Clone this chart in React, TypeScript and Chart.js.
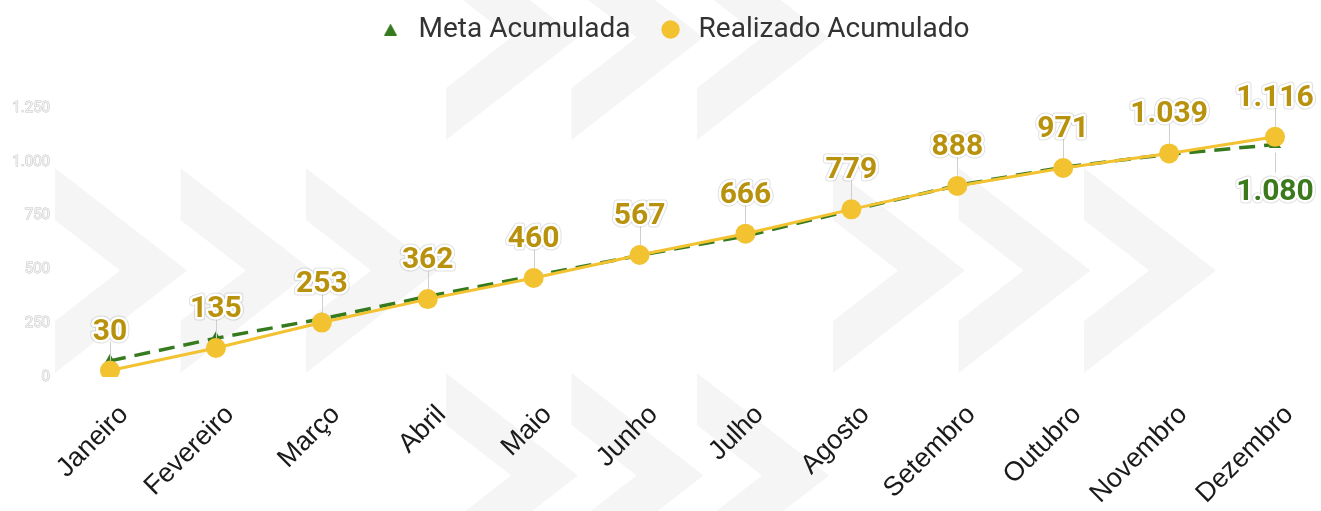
import React, { useEffect, useRef } from 'react';
import { Chart, registerables } from 'chart.js';

Chart.register(...registerables);

// ---- data ----
const months = ['Janeiro', 'Fevereiro', 'Março', 'Abril', 'Maio', 'Junho', 'Julho', 'Agosto', 'Setembro', 'Outubro', 'Novembro', 'Dezembro'];
const metaAcumulada = [75, 180, 270, 375, 470, 565, 655, 775, 890, 975, 1035, 1080];
const realizadoAcumulado = [30, 135, 253, 362, 460, 567, 666, 779, 888, 971, 1039, 1116];
const yMin = 0;
const yMax = 1250;
const yStep = 250;

// ---- styles ----
const GOLD = '#F2C231';
const GOLD_TEXT = '#B8920C';
const GREEN = '#367A1E';
const GREEN_TEXT = '#3A7A1C';

// background decoration (chevrons)
const chevronGroups = [
  { x: 55, top: 168 },
  { x: 446, top: -65 },
  { x: 446, top: 373 },
  { x: 833, top: 168 },
];
const CHEV_W = 132;
const CHEV_H = 205;
const CHEV_T = 52;
const CHEV_STEP = 125.5;

const fmt = (v: number) => String(Math.round(v)).replace(/\B(?=(\d{3})+(?!\d))/g, '.');

const chevronPlugin = {
  id: 'chevrons',
  beforeDraw(chart: any) {
    const ctx = chart.ctx;
    ctx.save();
    ctx.fillStyle = '#f5f5f5';
    chevronGroups.forEach((g) => {
      for (let k = 0; k < 3; k++) {
        const x = g.x + k * CHEV_STEP;
        const t = g.top;
        const half = CHEV_H / 2;
        const innerX = x + CHEV_W * (half - CHEV_T) / half;
        ctx.beginPath();
        ctx.moveTo(x, t);
        ctx.lineTo(x + CHEV_W, t + half);
        ctx.lineTo(x, t + CHEV_H);
        ctx.lineTo(x, t + CHEV_H - CHEV_T);
        ctx.lineTo(innerX, t + half);
        ctx.lineTo(x, t + CHEV_T);
        ctx.closePath();
        ctx.fill();
      }
    });
    ctx.restore();
    // let y tick labels extend past the axis box
    const ys = chart.scales.y;
    if (ys) ys._computeLabelArea = () => undefined;
  },
};

const LEGEND_TOP = -10.5;
const LEGEND_H = 118.5;
const legendSpacer = {
  id: 'legendSpacer',
  beforeLayout(chart: any) {
    const legend = chart.legend;
    if (!legend || legend.__patched) return;
    const orig = legend.fit;
    legend.fit = function () {
      orig.call(this);
      this.height = LEGEND_H;
    };
    legend.__patched = true;
  },
};

function drawLabel(ctx: CanvasRenderingContext2D, x: number, y1: number, y2: number, text: string, color: string, below: boolean) {
  ctx.save();
  ctx.strokeStyle = '#cfcfcf';
  ctx.lineWidth = 1;
  ctx.beginPath();
  ctx.moveTo(Math.round(x) + 0.5, y1);
  ctx.lineTo(Math.round(x) + 0.5, y2);
  ctx.stroke();
  ctx.font = 'bold 30px Roboto';
  ctx.textAlign = 'center';
  ctx.textBaseline = 'alphabetic';
  const ty = below ? y2 + 6 + 21 : y2 - 2;
  ctx.lineJoin = 'round';
  ctx.strokeStyle = 'rgba(0,0,0,0.13)';
  ctx.lineWidth = 7;
  ctx.strokeText(text, x, ty);
  ctx.strokeStyle = '#ffffff';
  ctx.lineWidth = 5;
  ctx.strokeText(text, x, ty);
  ctx.fillStyle = color;
  ctx.fillText(text, x, ty);
  ctx.restore();
}

const valueLabels = {
  id: 'valueLabels',
  afterDatasetsDraw(chart: any) {
    const ctx = chart.ctx;
    const real = chart.getDatasetMeta(1);
    real.data.forEach((pt: any, i: number) => {
      drawLabel(ctx, pt.x, pt.y - 10, pt.y - 29, fmt(realizadoAcumulado[i]), GOLD_TEXT, false);
    });
    const meta = chart.getDatasetMeta(0);
    const last = metaAcumulada.length - 1;
    const p = meta.data[last];
    if (p) drawLabel(ctx, p.x, p.y + 8, p.y + 28, fmt(metaAcumulada[last]), GREEN_TEXT, true);
  },
};

export default function App() {
  const ref = useRef<HTMLCanvasElement>(null);
  useEffect(() => {
    document.body.style.margin = '0';
    const tri = document.createElement('canvas');
    tri.width = 13;
    tri.height = 12;
    const tc = tri.getContext('2d')!;
    tc.fillStyle = GREEN;
    tc.beginPath();
    tc.moveTo(6.5, 0);
    tc.lineTo(13, 12);
    tc.lineTo(0, 12);
    tc.closePath();
    tc.fill();

    const chart = new Chart(ref.current!, {
      type: 'line',
      data: {
        labels: months,
        datasets: [
          {
            label: 'Meta Acumulada',
            data: metaAcumulada,
            borderColor: GREEN,
            backgroundColor: GREEN,
            borderWidth: 3.5,
            borderDash: [16, 9],
            pointStyle: 'triangle',
            pointRadius: 7,
            pointBorderWidth: 0,
            pointBackgroundColor: GREEN,
            tension: 0,
            order: 1,
            yAxisID: 'y',
          },
          {
            label: 'Realizado Acumulado',
            data: realizadoAcumulado,
            borderColor: GOLD,
            backgroundColor: GOLD,
            borderWidth: 3,
            pointStyle: 'circle',
            pointRadius: 10,
            pointBorderWidth: 0,
            pointBackgroundColor: GOLD,
            tension: 0,
            order: 0,
            yAxisID: 'y',
          },
        ],
      },
      options: {
        animation: false,
        responsive: true,
        maintainAspectRatio: false,
        layout: { padding: { left: 25, right: 0, top: LEGEND_TOP, bottom: 0 } },
        plugins: {
          tooltip: { enabled: false },
          legend: {
            position: 'top',
            align: 'center',
            labels: {
              usePointStyle: true,
              boxWidth: 28,
              boxHeight: 13,
              padding: 26,
              color: '#333333',
              font: { family: 'Roboto', size: 28 },
              sort: (a: any, b: any) => a.datasetIndex - b.datasetIndex,
              generateLabels: (c: any) => {
                const items = (Chart as any).defaults.plugins.legend.labels.generateLabels(c);
                items.forEach((it: any) => {
                  if (it.datasetIndex === 0) it.pointStyle = tri;
                });
                return items;
              },
            },
          },
        },
        scales: {
          x: {
            type: 'category',
            offset: false,
            grid: { display: false, drawTicks: false },
            border: { display: false },
            ticks: {
              autoSkip: false,
              maxRotation: 45,
              minRotation: 45,
              padding: 22,
              labelOffset: 14,
              color: '#1a1a1a',
              font: { family: 'Liberation Sans', size: 27 },
            },
            afterFit: (s: any) => {
              s.height = 134;
            },
          },
          y: {
            type: 'linear',
            position: 'left',
            min: yMin,
            max: yMax,
            grid: { display: false, drawTicks: false },
            border: { display: false },
            ticks: {
              stepSize: yStep,
              padding: 60,
              color: '#f2f2f2',
              textStrokeColor: '#c6c6c6',
              textStrokeWidth: 1,
              font: { family: 'Roboto', size: 15 },
              callback: (v: any) => fmt(Number(v)),
            },
            afterFit: (s: any) => {
              s.width = 85;
            },
          },
          yRight: {
            type: 'linear',
            position: 'right',
            display: true,
            grid: { display: false, drawTicks: false },
            border: { display: false },
            ticks: { display: false },
            afterFit: (s: any) => {
              s.width = 46;
            },
          },
        },
      },
      plugins: [chevronPlugin, legendSpacer, valueLabels],
    } as any);
    return () => chart.destroy();
  }, []);

  return (
    <div style={{ width: 1321, height: 511, position: 'relative' }}>
      <canvas ref={ref} />
    </div>
  );
}
